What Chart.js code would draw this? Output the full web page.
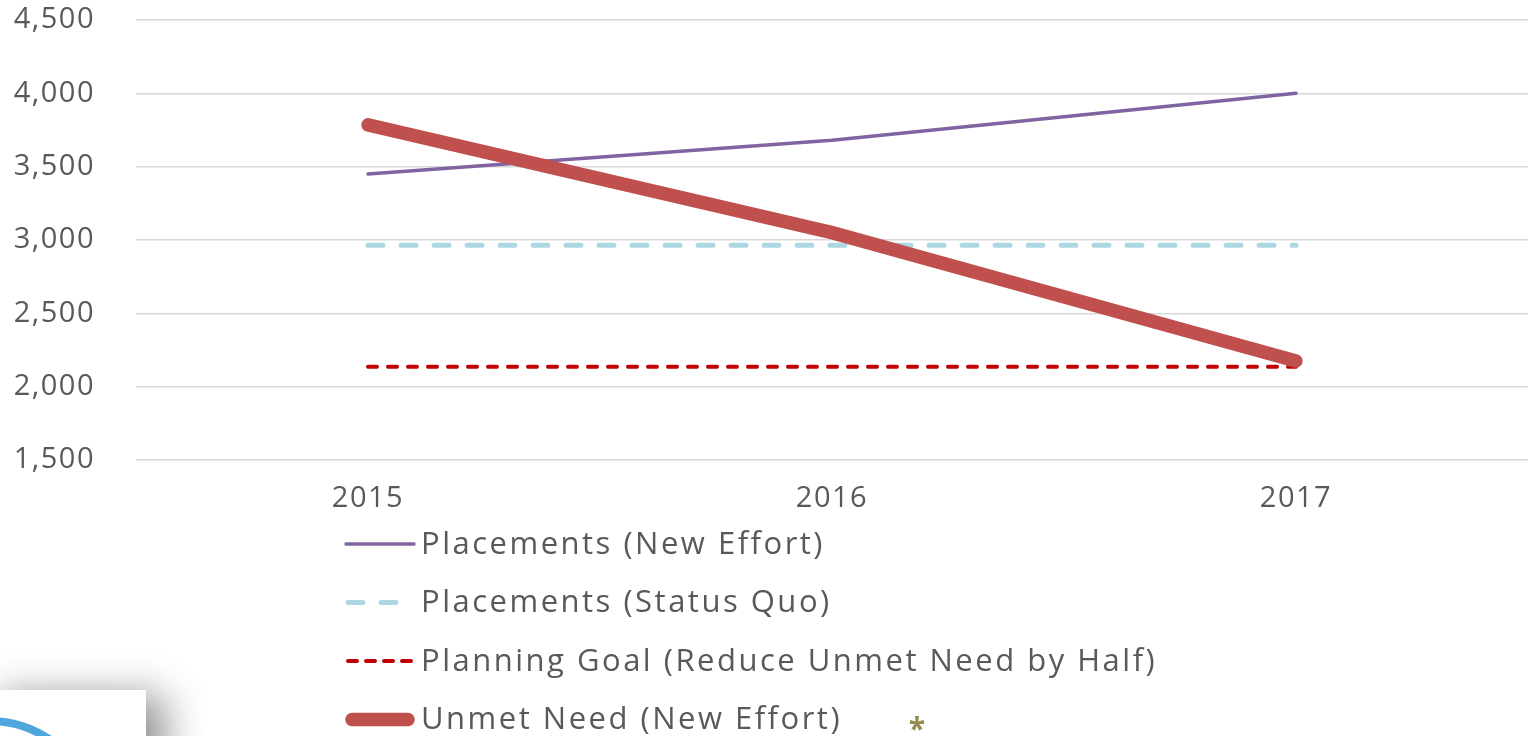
<!DOCTYPE html>
<html>
<head>
<meta charset="utf-8">
<script src="https://cdn.jsdelivr.net/npm/chart.js@4.4.1/dist/chart.umd.min.js"></script>
<style>
  html, body { margin: 0; padding: 0; background: #ffffff; overflow: hidden; }
  #wrap { position: relative; width: 1528px; height: 736px; }
  #c { position: absolute; left: 0; top: 0; }
  #badge {
    position: absolute; left: -20px; top: 690px; width: 166px; height: 80px;
    background: #ffffff; overflow: hidden;
    box-shadow: 18px 6px 40px rgba(0,0,0,0.45);
  }
  #ring {
    position: absolute; left: -100px; top: 27px; width: 220px; height: 220px;
    border-radius: 50%; border: 8px solid #4ea6dd; box-sizing: border-box;
  }
</style>
</head>
<body>
<div id="wrap">
  <canvas id="c" width="1528" height="736"></canvas>
  <div id="badge"><div id="ring"></div></div>
</div>
<script>
// ---- data ----
const years = ['2015', '2016', '2017'];
const placementsNewEffort = [3450, 3680, 4000];
const placementsStatusQuo = [2965, 2965, 2965];
const planningGoal = [2135, 2135, 2135];
const unmetNeedNewEffort = [3785, 3050, 2175];
const seriesNames = [
  'Placements (New Effort)',
  'Placements (Status Quo)',
  'Planning Goal (Reduce Unmet Need by Half)',
  'Unmet Need (New Effort)'
];
const yMin = 1500, yMax = 4500, yStep = 500;

const FONT = "'Open Sans', 'Liberation Sans', sans-serif";
const TEXT = '#595959';

const legendPlugin = {
  id: 'stackLegend',
  beforeDraw(chart) { chart.ctx.letterSpacing = '1.5px'; },
  afterDraw(chart, args, opts) {
    const ctx = chart.ctx;
    ctx.save();
    ctx.letterSpacing = '2.5px';
    chart.data.datasets.forEach((ds, i) => {
      const y = opts.top + i * opts.gap;
      ctx.beginPath();
      ctx.strokeStyle = ds.borderColor;
      ctx.lineWidth = ds.borderWidth;
      ctx.lineCap = ds.borderCapStyle || 'butt';
      ctx.setLineDash(ds.legendDash || []);
      ctx.moveTo(opts.x0 + (ds.legendInset || 0), y);
      ctx.lineTo(opts.x1 - (ds.legendInset || 0), y);
      ctx.stroke();
      ctx.setLineDash([]);
      ctx.fillStyle = TEXT;
      ctx.font = "31px " + FONT;
      ctx.textBaseline = 'middle';
      ctx.textAlign = 'left';
      ctx.fillText(ds.label, opts.textX, y + 1);
    });
    // asterisk note marker
    ctx.fillStyle = '#948a54';
    ctx.font = "bold 30px " + FONT;
    ctx.letterSpacing = '0px';
    ctx.textAlign = 'center';
    ctx.textBaseline = 'middle';
    ctx.fillText('*', opts.starX, opts.starY);
    ctx.restore();
  }
};

new Chart(document.getElementById('c'), {
  type: 'line',
  data: {
    labels: years,
    datasets: [
      {
        label: seriesNames[0], data: placementsNewEffort,
        borderColor: '#8064a2', borderWidth: 3.5, borderCapStyle: 'round',
        pointRadius: 0, tension: 0, order: 3
      },
      {
        label: seriesNames[1], data: placementsStatusQuo,
        borderColor: '#acd8e4', borderWidth: 5, borderCapStyle: 'round',
        borderDash: [15, 18], legendDash: [15, 18], legendInset: 2,
        pointRadius: 0, tension: 0, order: 2
      },
      {
        label: seriesNames[2], data: planningGoal,
        borderColor: '#c00000', borderWidth: 4, borderCapStyle: 'round',
        borderDash: [9, 11], legendDash: [9, 9], legendInset: 2,
        pointRadius: 0, tension: 0, order: 4
      },
      {
        label: seriesNames[3], data: unmetNeedNewEffort,
        borderColor: '#c0504d', borderWidth: 13.5, borderCapStyle: 'round',
        legendInset: 6,
        pointRadius: 0, tension: 0, order: 1
      }
    ]
  },
  options: {
    responsive: false,
    animation: false,
    layout: { padding: { top: 20, right: 0, bottom: 0, left: 0 } },
    plugins: {
      legend: { display: false },
      tooltip: { enabled: false },
      stackLegend: { x0: 346, x1: 414, textX: 421, top: 544, gap: 58.5, starX: 917, starY: 730 }
    },
    scales: {
      x: {
        offset: true,
        grid: { display: false, drawTicks: false },
        border: { display: false },
        ticks: { color: TEXT, font: { family: FONT, size: 29 }, padding: 21, maxRotation: 0 },
        afterFit(scale) { scale.height = 276; scale.paddingLeft = 0; scale.paddingRight = 0; }
      },
      y: {
        min: yMin, max: yMax,
        grid: { color: '#d9d9d9', lineWidth: 1.5, drawTicks: false },
        border: { display: false },
        ticks: { stepSize: yStep, color: TEXT, font: { family: FONT, size: 29 }, padding: 41 },
        afterFit(scale) { scale.width = 136; scale.paddingTop = 0; scale.paddingBottom = 0; }
      }
    }
  },
  plugins: [legendPlugin]
});
</script>
</body>
</html>
